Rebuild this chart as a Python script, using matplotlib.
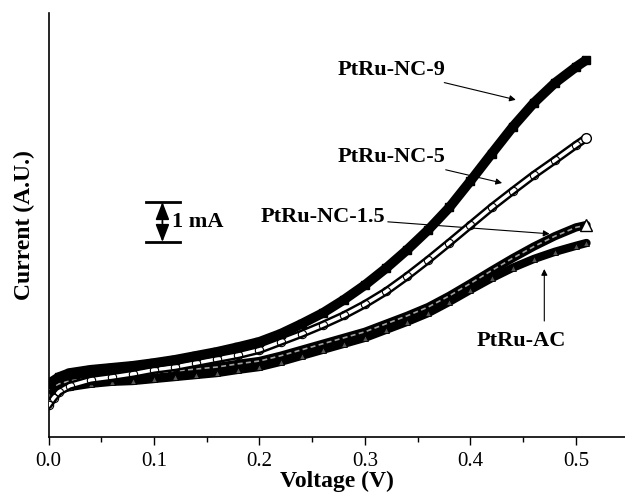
import numpy as np
import matplotlib
matplotlib.use("Agg")
import matplotlib.pyplot as plt

plt.rcParams['font.family'] = ['Liberation Serif', 'DejaVu Serif']

# voltage (V) and current (mA, arbitrary offset)
v_nc9 = [0, .01, .02, .04, .06, .08, .10, .12, .14, .16, .18, .20, .22, .24,
         .26, .28, .30, .32, .34, .36, .38, .40, .42, .44, .46, .48, .50, .51]
i_nc9 = [1.33, 1.50, 1.60, 1.68, 1.73, 1.78, 1.85, 1.93, 2.03, 2.13, 2.25, 2.38,
         2.58, 2.83, 3.10, 3.43, 3.80, 4.22, 4.68, 5.18, 5.74, 6.40, 7.08, 7.75,
         8.35, 8.85, 9.25, 9.43]

v_nc5 = [0, .005, .01, .02, .04, .06, .08, .10, .12, .14, .16, .18, .20, .22,
         .24, .26, .28, .30, .32, .34, .36, .38, .40, .42, .44, .46, .48, .50, .51]
i_nc5 = [0.80, 0.98, 1.13, 1.28, 1.43, 1.50, 1.58, 1.68, 1.75, 1.85, 1.95, 2.05,
         2.18, 2.38, 2.58, 2.80, 3.04, 3.32, 3.64, 4.02, 4.43, 4.86, 5.30, 5.74,
         6.15, 6.55, 6.92, 7.30, 7.48]

v_tri = [0, .01, .02, .04, .06, .08, .10, .12, .14, .16, .18, .20, .22, .24,
         .26, .28, .30, .32, .34, .36, .38, .40, .42, .44, .46, .48, .50, .51]
i_nc15 = [1.20, 1.33, 1.40, 1.48, 1.53, 1.55, 1.60, 1.65, 1.70, 1.75, 1.83, 1.90,
          2.03, 2.18, 2.33, 2.48, 2.63, 2.83, 3.03, 3.25, 3.53, 3.84, 4.16, 4.47,
          4.76, 5.02, 5.24, 5.30]
i_ac = [1.05, 1.18, 1.25, 1.33, 1.38, 1.40, 1.45, 1.50, 1.55, 1.60, 1.68, 1.75,
        1.88, 2.03, 2.18, 2.33, 2.48, 2.68, 2.88, 3.10, 3.38, 3.68, 3.97, 4.23,
        4.45, 4.63, 4.78, 4.85]

fig = plt.figure(figsize=(6.25, 4.93), dpi=100)
ax = fig.add_axes([0.0776, 0.1136, 0.9224, 0.86])

# PtRu-AC and PtRu-NC-1.5: dark triangle bands
ax.plot(v_tri, i_ac, color='black', lw=6, solid_capstyle='round',
        solid_joinstyle='round', zorder=2)
ax.plot(v_tri, i_ac, ls='none', marker='^', ms=5, mfc='#555555', mec='black',
        mew=0.6, zorder=3)
ax.plot(v_tri, i_nc15, color='black', lw=6, solid_capstyle='round',
        solid_joinstyle='round', zorder=2)
ax.plot(v_tri, i_nc15, color='#a0a0a0', lw=1.2, ls=(0, (3, 2)), zorder=3)
ax.plot(v_tri[-1:], i_nc15[-1:], ls='none', marker='^', ms=8, mfc='white',
        mec='black', mew=1, zorder=4)

# PtRu-NC-5: hollow circles chain
ax.plot(v_nc5, i_nc5, color='black', lw=6, solid_capstyle='round',
        solid_joinstyle='round', zorder=4)
ax.plot(v_nc5, i_nc5, color='white', lw=2.5, solid_joinstyle='round', zorder=5)
ax.plot(v_nc5, i_nc5, ls='none', marker='o', ms=6, mfc='none', mec='black',
        mew=0.8, zorder=6)
ax.plot(v_nc5[-1:], i_nc5[-1:], ls='none', marker='o', ms=7, mfc='white',
        mec='black', mew=1, zorder=6)

# PtRu-NC-9: filled squares
ax.plot(v_nc9, i_nc9, color='black', lw=7, solid_capstyle='butt',
        solid_joinstyle='round', zorder=7)
ax.plot(v_nc9, i_nc9, ls='none', marker='s', ms=6, color='black', zorder=8)

# labels with arrows
lab = dict(fontsize=16, fontweight='bold')
arr = dict(arrowstyle='-|>', color='black', lw=0.8, mutation_scale=9,
           shrinkA=0, shrinkB=0)
ax.annotate('PtRu-NC-9', xy=(0.443, 8.43), xytext=(0.376, 9.18),
            ha='right', va='center', arrowprops=arr, **lab)
ax.annotate('PtRu-NC-5', xy=(0.430, 6.35), xytext=(0.376, 7.0),
            ha='right', va='center', arrowprops=arr, **lab)
ax.annotate('PtRu-NC-1.5', xy=(0.475, 5.08), xytext=(0.319, 5.5),
            ha='right', va='center', arrowprops=arr, **lab)
ax.annotate('', xy=(0.470, 4.2), xytext=(0.470, 2.9), arrowprops=arr)
ax.text(0.4485, 2.4, 'PtRu-AC', ha='center', va='center', **lab)

# 1 mA scale bar
bar_top, bar_bot = 5.875, 4.875
ax.plot([0.092, 0.125], [bar_top, bar_top], color='black', lw=2)
ax.plot([0.092, 0.125], [bar_bot, bar_bot], color='black', lw=2)
head = dict(arrowstyle='-|>,head_width=0.35,head_length=0.9', color='black',
            lw=1.2, mutation_scale=12, shrinkA=0, shrinkB=0)
mid = (bar_top + bar_bot) / 2
ax.annotate('', xy=(0.108, bar_top), xytext=(0.108, mid), arrowprops=head)
ax.annotate('', xy=(0.108, bar_bot), xytext=(0.108, mid), arrowprops=head)
ax.text(0.117, mid, '1 mA', ha='left', va='center', **lab)

ax.set_xlim(0, 0.5465)
ax.set_ylim(0, 10.6)
ax.set_xticks(np.arange(0, 0.51, 0.1))
ax.set_xticks(np.arange(0.05, 0.55, 0.1), minor=True)
ax.set_xticklabels(['0.0', '0.1', '0.2', '0.3', '0.4', '0.5'])
ax.set_yticks([])
ax.tick_params(axis='x', which='major', direction='out', length=6, width=1,
               labelsize=15, pad=5)
ax.tick_params(axis='x', which='minor', direction='out', length=3.5, width=1)
for s in ['top', 'right']:
    ax.spines[s].set_visible(False)
for s in ['left', 'bottom']:
    ax.spines[s].set_linewidth(1.2)

ax.set_xlabel('Voltage (V)', fontsize=17, fontweight='bold', labelpad=0)
ax.set_ylabel('Current (A.U.)', fontsize=17, fontweight='bold', labelpad=10)

fig.savefig('out.png', dpi=100)
